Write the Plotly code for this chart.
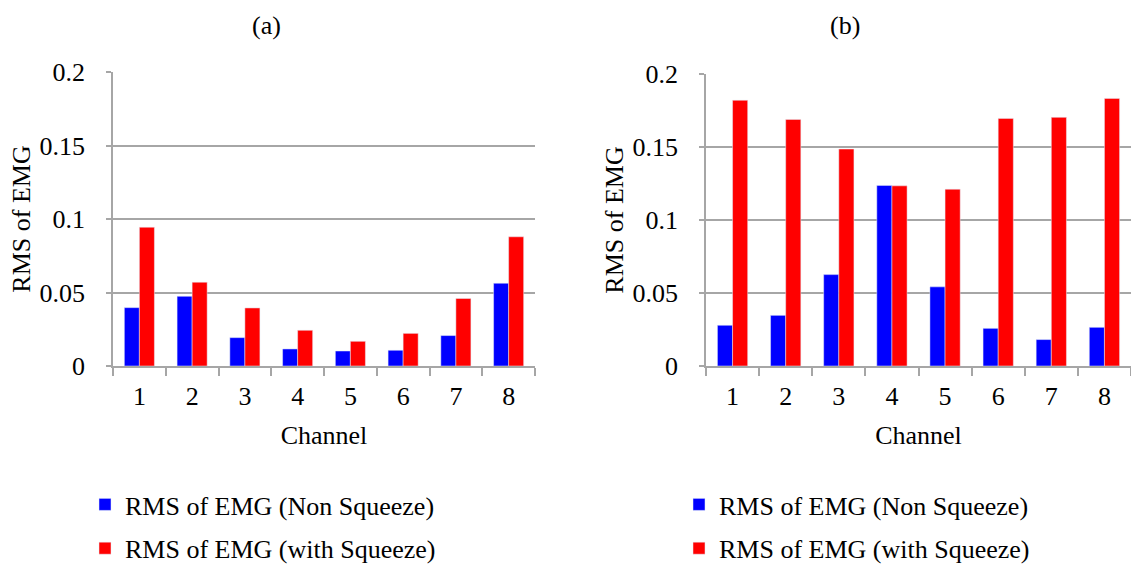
import plotly.graph_objects as go

channels = ["1", "2", "3", "4", "5", "6", "7", "8"]
a_non_squeeze = [0.0397, 0.0474, 0.0193, 0.0116, 0.0102, 0.0107, 0.0207, 0.0563]
a_with_squeeze = [0.0944, 0.0570, 0.0395, 0.0243, 0.0168, 0.0222, 0.0459, 0.0879]
b_non_squeeze = [0.0279, 0.0347, 0.0626, 0.1237, 0.0542, 0.0258, 0.0181, 0.0265]
b_with_squeeze = [0.1820, 0.1689, 0.1486, 0.1234, 0.1211, 0.1696, 0.1703, 0.1833]
name_non = "RMS of EMG (Non Squeeze)"
name_with = "RMS of EMG (with Squeeze)"
panel_titles = ["(a)", "(b)"]
y_ticks = [0, 0.05, 0.1, 0.15, 0.2]

W, H = 1131, 564
FONT = "Liberation Serif, Times New Roman, serif"
BLUE, RED = "#0000ff", "#ff0000"
GRID = "#a6a6a6"

def px(x):
    return x / W

def py(y):
    return 1 - y / H

fig = go.Figure()
fig.add_trace(go.Bar(x=channels, y=a_non_squeeze, name=name_non, marker_color=BLUE,
                     xaxis="x", yaxis="y", legend="legend", legendgroup="a1"))
fig.add_trace(go.Bar(x=channels, y=a_with_squeeze, name=name_with, marker_color=RED,
                     xaxis="x", yaxis="y", legend="legend", legendgroup="a2"))
fig.add_trace(go.Bar(x=channels, y=b_non_squeeze, name=name_non, marker_color=BLUE,
                     xaxis="x2", yaxis="y2", legend="legend2", legendgroup="b1"))
fig.add_trace(go.Bar(x=channels, y=b_with_squeeze, name=name_with, marker_color=RED,
                     xaxis="x2", yaxis="y2", legend="legend2", legendgroup="b2"))

xcommon = dict(showline=True, linecolor=GRID, linewidth=1.5, ticks="outside",
               tickson="boundaries", ticklen=8, tickcolor=GRID, tickwidth=1.5,
               showgrid=False, tickfont=dict(size=26, color="black", family=FONT),
               title=dict(text="Channel", font=dict(size=26, color="black", family=FONT), standoff=16),
               ticklabelstandoff=6, automargin=False)
ycommon = dict(range=[0, 0.2], tickvals=y_ticks, showline=True, linecolor=GRID, linewidth=1.5,
               ticks="outside", ticklen=5, tickcolor=GRID, tickwidth=1.5,
               showgrid=True, gridcolor=GRID, gridwidth=1.5, zeroline=False,
               tickfont=dict(size=26, color="black", family=FONT),
               title=dict(text="RMS of EMG", font=dict(size=26, color="black", family=FONT), standoff=1),
               ticklabelstandoff=16, automargin=False)

fig.update_layout(
    width=W, height=H, margin=dict(l=0, r=0, t=0, b=0, autoexpand=False),
    paper_bgcolor="white", plot_bgcolor="white",
    font=dict(family=FONT, size=26, color="black"),
    barmode="group", bargap=0.43, bargroupgap=0,
    xaxis=dict(domain=[px(113), px(535)], anchor="y", **xcommon),
    yaxis=dict(domain=[py(366), py(72)], anchor="x", **ycommon),
    xaxis2=dict(domain=[px(706), 1.0], anchor="y2", **xcommon),
    yaxis2=dict(domain=[py(366), py(74)], anchor="x2", **ycommon),
    legend=dict(x=px(85), y=py(481), xanchor="left", yanchor="top", tracegroupgap=7,
                font=dict(size=26, family=FONT, color="black"), bgcolor="rgba(0,0,0,0)",
                itemclick=False),
    legend2=dict(x=px(679), y=py(481), xanchor="left", yanchor="top", tracegroupgap=7,
                 font=dict(size=26, family=FONT, color="black"), bgcolor="rgba(0,0,0,0)",
                 itemclick=False),
    annotations=[
        dict(text=panel_titles[0], x=px(250), y=py(25), xref="paper", yref="paper",
             yanchor="middle", showarrow=False, font=dict(size=26, family=FONT, color="black")),
        dict(text=panel_titles[1], x=px(862), y=py(25), xref="paper", yref="paper",
             yanchor="middle", showarrow=False, font=dict(size=26, family=FONT, color="black")),
    ],
)

fig.write_html("out.html", config={"displayModeBar": False},
               post_script="document.body.style.margin='0px';document.body.style.padding='0px';")
